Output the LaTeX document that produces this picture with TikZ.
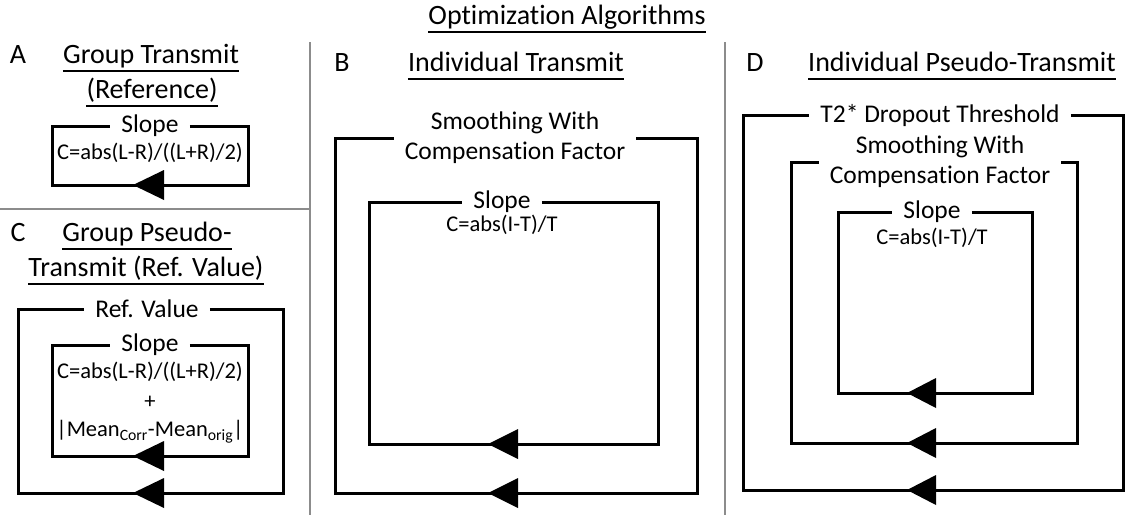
\documentclass[tikz,border=0pt]{standalone}
\usepackage{fontspec}
\setmainfont{Carlito}[Ligatures=NoCommon]
\usetikzlibrary{calc}
\begin{document}
\begin{tikzpicture}[x=1pt,y=-1pt,
  ttl/.style={font=\fontsize{28}{32}\selectfont, inner sep=0pt, text height=19pt, text depth=6pt},
  lbl/.style={font=\fontsize{25.5}{30}\selectfont, inner ysep=0pt, inner xsep=11pt, align=center},
  fml/.style={font=\fontsize{22.5}{26}\selectfont, inner sep=0pt},
  uline/.style={line width=1.8pt},
  loopline/.style={line width=3pt, line join=miter},
  divider/.style={line width=1.5pt, draw=black!45},
  tri/.style={fill=black}]
\useasboundingbox (0,0) rectangle (1126,515);
% dividers
\draw[divider] (310,42) -- (310,515);
\draw[divider] (725,42) -- (725,515);
\draw[divider] (0,209) -- (310,209);
% main title
\node[ttl] (title) at (567,18) {Optimization Algorithms};
\draw[uline] ($(title.south west)+(0,1)$) -- ($(title.south east)+(0,1)$);
% ---- Panel A
\node[ttl] (la) at (18,57) {A};
\node[ttl] (ta1) at (151,57) {Group Transmit};
\node[ttl] (ta2) at (152,92) {(Reference)};
\foreach \n in {ta1,ta2} \draw[uline] ($(\n.south west)+(0,1)$) -- ($(\n.south east)+(0,1)$);
\node[lbl] (aslope) at (150,126) {Slope};
\node[fml] (afml) at (150,153) {C=abs(L-R)/((L+R)/2)};
\draw[loopline] (aslope.east) -| (248,185) -| (52,126) -- (aslope.west);
\fill[tri] (133,185) -- (164,170) -- (164,200) -- cycle;
% ---- Panel C
\node[ttl] (lc) at (18,235) {C};
\node[ttl] (tc1) at (147,235) {Group Pseudo-};
\node[ttl] (tc2) at (146,270) {Transmit (Ref. Value)};
\foreach \n in {tc1,tc2} \draw[uline] ($(\n.south west)+(0,1)$) -- ($(\n.south east)+(0,1)$);
\node[lbl] (cref) at (147,309) {Ref. Value};
\draw[loopline] (cref.east) -| (283,493) -| (18,309) -- (cref.west);
\fill[tri] (133,493) -- (164,478) -- (164,508) -- cycle;
\node[lbl] (cslope) at (150,345) {Slope};
\draw[loopline] (cslope.east) -| (248,456) -| (52,345) -- (cslope.west);
\fill[tri] (133,456) -- (164,441) -- (164,471) -- cycle;
\node[fml] (cf1) at (150,372) {C=abs(L-R)/((L+R)/2)};
\node[fml] (cf2) at (150,402) {+};
\node[fml] (cf3) at (150,432) {|Mean\textsubscript{Corr}-Mean\textsubscript{orig}|};
% ---- Panel B
\node[ttl] (lb) at (342,65) {B};
\node[ttl] (tb) at (516,65) {Individual Transmit};
\draw[uline] ($(tb.south west)+(0,1)$) -- ($(tb.south east)+(0,1)$);
\node[lbl] (bsm) at (515,138) {Smoothing With\\Compensation Factor};
\draw[loopline] (bsm.east) -| (697,493) -| (335,138) -- (bsm.west);
\fill[tri] (488,493) -- (518,478) -- (518,508) -- cycle;
\node[lbl] (bslope) at (502,202) {Slope};
\draw[loopline] (bslope.east) -| (658,444) -| (369,202) -- (bslope.west);
\fill[tri] (488,444) -- (518,429) -- (518,459) -- cycle;
\node[fml] (bf) at (502,225) {C=abs(I-T)/T};
% ---- Panel D
\node[ttl] (ld) at (755,65) {D};
\node[ttl] (td) at (962,65) {Individual Pseudo-Transmit};
\draw[uline] ($(td.south west)+(0,1)$) -- ($(td.south east)+(0,1)$);
\node[lbl] (dt2) at (940,115) {T2* Dropout Threshold};
\draw[loopline] (dt2.east) -| (1123,490) -| (743,115) -- (dt2.west);
\fill[tri] (907,490) -- (936,475) -- (936,505) -- cycle;
\node[lbl] (dsm) at (940,162) {Smoothing With\\Compensation Factor};
\draw[loopline] (dsm.east) -| (1077,443) -| (791,162) -- (dsm.west);
\fill[tri] (907,443) -- (936,428) -- (936,458) -- cycle;
\node[lbl] (dslope) at (932,212) {Slope};
\draw[loopline] (dslope.east) -| (1032,393) -| (838,212) -- (dslope.west);
\fill[tri] (907,393) -- (936,378) -- (936,408) -- cycle;
\node[fml] (df) at (932,238) {C=abs(I-T)/T};
\end{tikzpicture}
\end{document}
